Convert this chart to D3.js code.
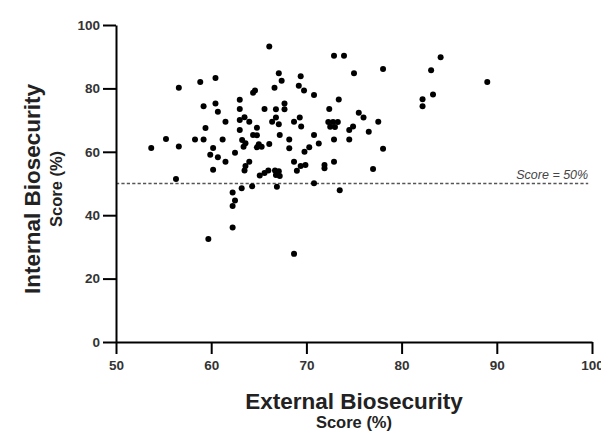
<!DOCTYPE html>
<html>
<head>
<meta charset="utf-8">
<script src="https://cdn.jsdelivr.net/npm/d3@7"></script>
<style>
  html, body { margin: 0; padding: 0; background: #fff; }
  svg { display: block; font-family: Arial, "Liberation Sans", sans-serif; }
</style>
</head>
<body>
<svg id="chart" width="601" height="433"></svg>
<script>
// External vs internal biosecurity score (%) per farm
const externalScore = [
  56.6, 58.85, 60.45, 66.1, 67.1, 66.65, 64.4, 64.6, 59.2, 60.45,
  60.7, 63.0, 63.0, 65.6, 66.8, 61.5, 63.0, 63.5, 64.0, 66.8,
  66.4, 67.1, 59.4, 63.0, 64.8, 64.4, 64.8, 67.2, 55.25, 58.3,
  59.2, 61.2, 63.25, 63.6, 63.4, 66.1, 53.7, 56.6, 60.2, 65.0,
  64.8, 65.3, 62.5, 67.4, 69.4, 72.9, 73.95, 75.0, 78.05, 69.2,
  69.75, 70.8, 73.4, 67.7, 67.7, 72.4, 75.5, 76.0, 77.55, 69.3,
  68.7, 69.45, 72.3, 72.8, 73.3, 72.5, 73.0, 74.9, 74.5, 76.55,
  70.8, 68.2, 72.9, 74.5, 71.3, 68.2, 70.3, 69.8, 78.05, 59.9,
  60.7, 61.5, 60.2, 63.6, 64.0, 63.5, 65.1, 65.6, 66.0, 66.7,
  67.1, 66.8, 67.2, 56.3, 63.2, 64.3, 66.9, 62.25, 62.5, 62.25,
  62.25, 59.7, 68.7, 69.0, 69.4, 69.9, 71.9, 71.9, 72.9, 77.0,
  70.8, 73.5, 68.7, 84.1, 83.1, 89.0, 83.3, 82.2, 82.2
];
const internalScore = [
  80.2, 82.0, 83.3, 93.2, 84.8, 80.2, 78.6, 79.3, 74.4, 75.2,
  72.6, 76.4, 73.5, 73.5, 73.4, 69.5, 70.0, 70.9, 69.5, 70.8,
  69.5, 68.7, 67.5, 66.9, 67.6, 65.3, 65.2, 65.3, 64.0, 63.9,
  63.9, 63.9, 63.7, 62.7, 61.6, 62.5, 61.2, 61.7, 61.2, 62.4,
  61.4, 61.6, 59.7, 82.4, 83.8, 90.3, 90.3, 84.8, 86.1, 80.8,
  79.3, 77.9, 76.5, 75.2, 73.4, 73.5, 72.3, 70.8, 69.5, 70.8,
  69.5, 68.0, 69.4, 69.4, 69.4, 67.9, 67.8, 68.0, 66.9, 66.3,
  65.3, 63.9, 63.9, 63.9, 62.6, 61.1, 61.4, 60.0, 61.0, 59.1,
  58.3, 56.9, 54.3, 55.5, 56.9, 54.1, 52.5, 53.3, 54.1, 54.1,
  53.9, 52.7, 52.4, 51.4, 48.5, 49.1, 49.0, 47.2, 44.6, 42.9,
  36.1, 32.5, 56.9, 54.0, 55.5, 55.8, 55.8, 54.8, 56.9, 54.6,
  50.1, 47.9, 27.8, 89.8, 85.7, 82.0, 78.1, 76.6, 74.4
];
const xTicks = [50, 60, 70, 80, 90, 100];
const yTicks = [0, 20, 40, 60, 80, 100];
const threshold = 50;
const thresholdLabel = "Score = 50%";
const xTitle = "External Biosecurity";
const yTitle = "Internal Biosecurity";
const unitTitle = "Score (%)";

const points = externalScore.map((v, i) => ({ x: v, y: internalScore[i] }));

const svg = d3.select("#chart");
const plotLeft = 116, plotRight = 592, plotTop = 25, plotBottom = 342;

const x = d3.scaleLinear().domain([50, 100]).range([plotLeft, plotRight]);
const y = d3.scaleLinear().domain([0, 100]).range([plotBottom, plotTop]);

// threshold line
svg.append("line")
  .attr("x1", x(50)).attr("x2", x(99.6))
  .attr("y1", y(threshold)).attr("y2", y(threshold))
  .attr("stroke", "#555").attr("stroke-width", 1.5)
  .attr("stroke-dasharray", "3.2,2.2");

svg.append("text")
  .attr("x", x(99.6)).attr("y", y(threshold) - 4.5)
  .attr("text-anchor", "end")
  .attr("font-size", 12.5).attr("font-style", "italic")
  .attr("fill", "#444")
  .text(thresholdLabel);

// scatter points
svg.append("g").selectAll("circle")
  .data(points)
  .join("circle")
  .attr("cx", d => x(d.x))
  .attr("cy", d => y(d.y))
  .attr("r", 3)
  .attr("fill", "#000");

// axes
const xAxis = svg.append("g")
  .attr("transform", `translate(0,${plotBottom})`)
  .call(d3.axisBottom(x).tickValues(xTicks).tickSize(12).tickSizeOuter(0).tickPadding(6));
const yAxis = svg.append("g")
  .attr("transform", `translate(${plotLeft},0)`)
  .call(d3.axisLeft(y).tickValues(yTicks).tickSize(13).tickSizeOuter(0).tickPadding(3));

[xAxis, yAxis].forEach(g => {
  g.select(".domain").attr("stroke", "#000").attr("stroke-width", 2);
  g.selectAll(".tick line").attr("stroke", "#000").attr("stroke-width", 2);
  g.selectAll(".tick text")
    .attr("font-size", 13.5).attr("font-weight", "bold")
    .attr("fill", "#333")
    .attr("font-family", "Arial, 'Liberation Sans', sans-serif");
});

// axis titles
svg.append("text")
  .attr("x", (plotLeft + plotRight) / 2).attr("y", 409)
  .attr("text-anchor", "middle")
  .attr("font-size", 22.5).attr("font-weight", "bold").attr("fill", "#222")
  .text(xTitle);
svg.append("text")
  .attr("x", (plotLeft + plotRight) / 2).attr("y", 428)
  .attr("text-anchor", "middle")
  .attr("font-size", 16.5).attr("font-weight", "bold").attr("fill", "#222")
  .text(unitTitle);

svg.append("text")
  .attr("transform", "translate(40,189) rotate(-90)")
  .attr("text-anchor", "middle")
  .attr("font-size", 22.5).attr("font-weight", "bold").attr("fill", "#222")
  .text(yTitle);
svg.append("text")
  .attr("transform", "translate(62,189) rotate(-90)")
  .attr("text-anchor", "middle")
  .attr("font-size", 16.5).attr("font-weight", "bold").attr("fill", "#222")
  .text(unitTitle);
</script>
</body>
</html>
